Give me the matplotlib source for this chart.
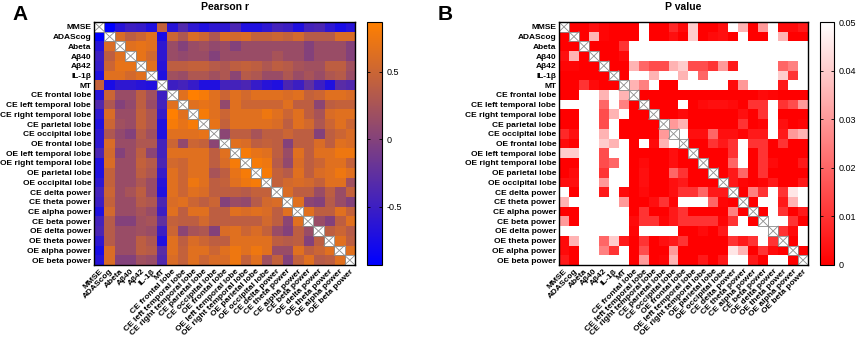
import numpy as np
import matplotlib
matplotlib.use('Agg')
import matplotlib.pyplot as plt
from matplotlib.colors import LinearSegmentedColormap
from matplotlib.patches import Rectangle

plt.rcParams['font.family'] = ['Liberation Sans', 'DejaVu Sans']

labels = ['MMSE', 'ADAScog', 'Abeta', 'Aβ40', 'Aβ42', 'IL-1β', 'MT',
          'CE frontal lobe', 'CE left temporal lobe', 'CE right temporal lobe',
          'CE parietal lobe', 'CE occipital lobe',
          'OE frontal lobe', 'OE left temporal lobe', 'OE right temporal lobe',
          'OE parietal lobe', 'OE occipital lobe',
          'CE delta power', 'CE theta power', 'CE alpha power', 'CE beta power',
          'OE delta power', 'OE theta power', 'OE alpha power', 'OE beta power']

# Pearson r, upper triangle: row i holds r(i, j) for j > i
r_upper = [
    [-0.93, -0.65, -0.5, -0.55, -0.7, 0.45, -0.65, -0.35, -0.6, -0.7, -0.6, -0.6, -0.4, -0.7, -0.7, -0.6, -0.45, -0.5, -0.7, -0.45, -0.4, -0.6, -0.75, -0.65],
    [0.6, 0.4, 0.5, 0.65, -0.75, 0.5, 0.3, 0.6, 0.5, 0.3, 0.6, 0.55, 0.6, 0.45, 0.45, 0.5, 0.45, 0.55, 0.35, 0.35, 0.35, 0.6, 0.6],
    [0.65, 0.7, 0.65, -0.6, 0.15, 0.0, 0.15, 0.2, 0.1, 0.15, 0.0, 0.15, 0.15, 0.15, 0.15, 0.15, 0.15, 0.0, 0.15, 0.15, 0.15, 0.0],
    [0.7, 0.55, -0.6, 0.15, 0.1, 0.15, 0.15, 0.0, 0.15, 0.15, 0.15, 0.15, 0.15, 0.25, 0.15, 0.15, 0.0, 0.15, 0.15, 0.15, 0.0],
    [0.65, -0.65, 0.4, 0.4, 0.45, 0.45, 0.35, 0.3, 0.4, 0.45, 0.4, 0.3, 0.4, 0.35, 0.25, 0.2, 0.2, 0.4, 0.4, 0.2],
    [-0.7, 0.2, 0.15, 0.3, 0.3, 0.2, 0.3, 0.05, 0.35, 0.3, 0.15, 0.15, 0.3, 0.15, 0.25, 0.15, 0.3, 0.35, 0.15],
    [-0.5, -0.45, -0.55, -0.7, -0.7, -0.45, -0.45, -0.4, -0.55, -0.65, -0.7, -0.4, -0.5, -0.25, -0.5, -0.7, -0.3, -0.35],
    [0.65, 0.87, 0.8, 0.65, 0.5, 0.65, 0.55, 0.65, 0.65, 0.65, 0.6, 0.65, 0.45, 0.5, 0.65, 0.65, 0.6],
    [0.65, 0.7, 0.65, 0.1, 0.65, 0.5, 0.5, 0.5, 0.5, 0.65, 0.4, 0.4, 0.05, 0.4, 0.45, 0.45],
    [0.8, 0.65, 0.5, 0.65, 0.65, 0.65, 0.75, 0.65, 0.5, 0.65, 0.4, 0.25, 0.6, 0.65, 0.65],
    [0.7, 0.45, 0.65, 0.65, 0.65, 0.65, 0.6, 0.4, 0.65, 0.55, 0.3, 0.5, 0.65, 0.5],
    [0.05, 0.4, 0.4, 0.25, 0.4, 0.4, 0.5, 0.4, 0.4, 0.0, 0.4, 0.5, 0.6],
    [0.65, 0.6, 0.4, 0.45, 0.4, 0.0, 0.4, 0.4, 0.6, 0.4, 0.65, 0.6],
    [0.8, 0.7, 0.65, 0.4, 0.15, 0.65, 0.4, 0.65, 0.65, 0.75, 0.75],
    [0.8, 0.75, 0.35, 0.1, 0.6, 0.4, 0.5, 0.65, 0.65, 0.45],
    [0.8, 0.45, 0.35, 0.65, 0.4, 0.6, 0.65, 0.75, 0.65],
    [0.45, 0.55, 0.6, 0.55, 0.45, 0.65, 0.65, 0.2],
    [0.6, 0.4, 0.4, 0.15, 0.4, 0.15, 0.45],
    [0.65, 0.05, 0.0, 0.35, 0.15, 0.0],
    [0.65, 0.4, 0.4, 0.65, 0.45],
    [0.15, 0.0, 0.4, 0.65],
    [0.4, 0.5, 0.35],
    [0.65, 0.4],
    [0.65],
]

# P values, upper triangle in the same layout
p_upper = [
    [0.0, 0.0, 0.003, 0.001, 0.0, 0.0, 0.0, 0.05, 0.0, 0.0, 0.008, 0.002, 0.04, 0.0, 0.0, 0.003, 0.05, 0.035, 0.0, 0.03, 0.05, 0.002, 0.002, 0.005],
    [0.0, 0.035, 0.001, 0.0, 0.0, 0.0, 0.05, 0.0, 0.0, 0.003, 0.0, 0.04, 0.0, 0.002, 0.003, 0.0, 0.05, 0.0, 0.0, 0.05, 0.035, 0.0, 0.0],
    [0.0, 0.0, 0.0, 0.01, 0.05, 0.05, 0.05, 0.05, 0.05, 0.05, 0.05, 0.05, 0.05, 0.05, 0.05, 0.05, 0.05, 0.05, 0.05, 0.05, 0.05, 0.05],
    [0.0, 0.0, 0.002, 0.05, 0.05, 0.05, 0.05, 0.05, 0.05, 0.05, 0.05, 0.05, 0.05, 0.05, 0.05, 0.05, 0.05, 0.05, 0.05, 0.05, 0.05],
    [0.0, 0.0, 0.035, 0.02, 0.015, 0.015, 0.035, 0.04, 0.015, 0.015, 0.01, 0.03, 0.005, 0.05, 0.05, 0.05, 0.05, 0.02, 0.025, 0.05],
    [0.0, 0.05, 0.05, 0.035, 0.05, 0.05, 0.035, 0.05, 0.02, 0.05, 0.05, 0.05, 0.05, 0.05, 0.05, 0.05, 0.04, 0.01, 0.05],
    [0.035, 0.025, 0.05, 0.0, 0.0, 0.05, 0.05, 0.05, 0.05, 0.05, 0.002, 0.03, 0.05, 0.05, 0.05, 0.005, 0.05, 0.05],
    [0.0, 0.0, 0.0, 0.0, 0.0, 0.0, 0.0, 0.0, 0.0, 0.0, 0.0, 0.0, 0.002, 0.001, 0.0, 0.0, 0.0],
    [0.0, 0.0, 0.0, 0.05, 0.0, 0.002, 0.003, 0.003, 0.002, 0.0, 0.01, 0.01, 0.05, 0.01, 0.015, 0.03],
    [0.0, 0.0, 0.002, 0.0, 0.0, 0.0, 0.0, 0.0, 0.003, 0.0, 0.01, 0.05, 0.0, 0.0, 0.0],
    [0.03, 0.035, 0.0, 0.0, 0.0, 0.0, 0.0, 0.01, 0.0, 0.001, 0.05, 0.003, 0.0, 0.001],
    [0.05, 0.003, 0.003, 0.02, 0.003, 0.003, 0.001, 0.005, 0.005, 0.05, 0.005, 0.03, 0.035],
    [0.0, 0.0, 0.01, 0.005, 0.01, 0.05, 0.01, 0.01, 0.0, 0.01, 0.0, 0.0],
    [0.0, 0.0, 0.0, 0.01, 0.05, 0.0, 0.01, 0.0, 0.0, 0.0, 0.0],
    [0.0, 0.0, 0.02, 0.05, 0.0, 0.01, 0.002, 0.0, 0.0, 0.005],
    [0.0, 0.005, 0.02, 0.0, 0.01, 0.0, 0.0, 0.0, 0.0],
    [0.005, 0.001, 0.0, 0.001, 0.005, 0.0, 0.0, 0.005],
    [0.0, 0.025, 0.01, 0.05, 0.01, 0.045, 0.05],
    [0.0, 0.05, 0.05, 0.005, 0.035, 0.05],
    [0.0, 0.05, 0.01, 0.0, 0.005],
    [0.05, 0.05, 0.01, 0.0],
    [0.01, 0.002, 0.05],
    [0.0, 0.05],
    [0.0],
]


def full_matrix(upper, n):
    m = np.full((n, n), np.nan)
    for i, row in enumerate(upper):
        for k, v in enumerate(row):
            j = i + 1 + k
            m[i, j] = v
            m[j, i] = v
    return m


n = len(labels)
R = full_matrix(r_upper, n)
P = full_matrix(p_upper, n)

cmap_r = LinearSegmentedColormap.from_list('bo', [(0, 0, 1), (1, 0.5, 0)])
cmap_r.set_bad('white')
cmap_p = LinearSegmentedColormap.from_list('rw', [(1, 0, 0), (1, 1, 1)])
cmap_p.set_bad('white')

W, H = 858, 339
fig = plt.figure(figsize=(W / 100, H / 100), dpi=100)


def fx(px):
    return px / W


def fy(top, bottom):
    return (H - bottom) / H, (bottom - top) / H


def draw_panel(mat, cmap, vmin, vmax, ax_px, cb_px, title, letter, letter_x, ticks, ticklabels):
    b, h = fy(22, 265)
    ax = fig.add_axes([fx(ax_px[0]), b, fx(ax_px[1] - ax_px[0]), h])
    im = ax.imshow(mat, cmap=cmap, vmin=vmin, vmax=vmax, aspect='auto',
                   interpolation='nearest')
    for i in range(n):
        ax.add_patch(Rectangle((i - 0.5, i - 0.5), 1, 1, fill=False,
                               ec='#8c8c8c', lw=0.6))
        ax.plot([i - 0.5, i + 0.5], [i - 0.5, i + 0.5], color='#8c8c8c', lw=0.6)
        ax.plot([i - 0.5, i + 0.5], [i + 0.5, i - 0.5], color='#8c8c8c', lw=0.6)
    ax.set_xlim(-0.5, n - 0.5)
    ax.set_ylim(n - 0.5, -0.5)
    ax.set_xticks(range(n))
    ax.set_yticks(range(n))
    ax.set_xticklabels(labels, rotation=45, ha='right', rotation_mode='anchor',
                       fontsize=6, fontweight='bold')
    ax.set_yticklabels(labels, fontsize=6, fontweight='bold')
    ax.tick_params(length=0, pad=2)
    for s in ax.spines.values():
        s.set_linewidth(1.0)
    ax.set_title(title, fontsize=7.5, fontweight='bold', pad=9)
    fig.text(fx(letter_x), 1 - 14 / H, letter, fontsize=15, fontweight='bold',
             ha='center', va='center')
    cax = fig.add_axes([fx(cb_px[0]), b, fx(cb_px[1] - cb_px[0]), h])
    cb = fig.colorbar(im, cax=cax)
    cb.set_ticks(ticks)
    cb.set_ticklabels(ticklabels)
    cax.tick_params(direction='in', length=2, width=0.6, left=True, right=True,
                    labelsize=6.5, pad=3)
    cb.outline.set_linewidth(0.8)
    return ax


draw_panel(R, cmap_r, -0.93, 0.87, (94, 355), (367, 382), 'Pearson r', 'A', 20,
           [-0.5, 0, 0.5], ['-0.5', '0', '0.5'])
draw_panel(P, cmap_p, 0.0, 0.05, (559, 808), (820, 834), 'P value', 'B', 445,
           [0, 0.01, 0.02, 0.03, 0.04, 0.05], ['0', '0.01', '0.02', '0.03', '0.04', '0.05'])

fig.savefig('out.png', dpi=100)
